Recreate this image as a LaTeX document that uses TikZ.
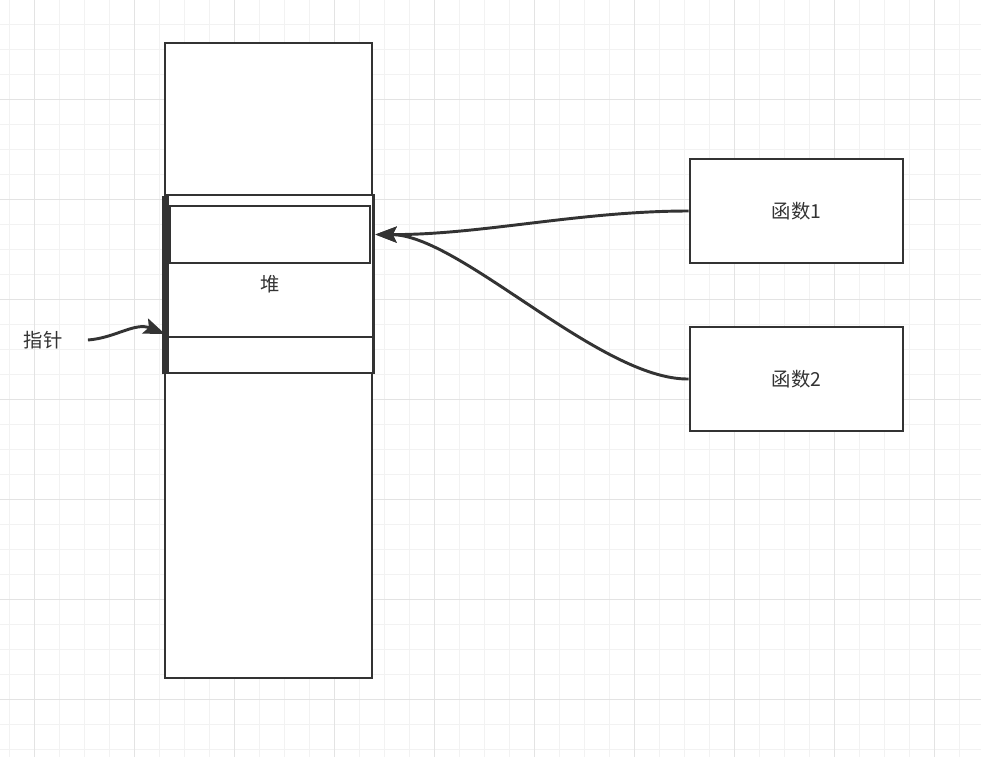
\documentclass[tikz,border=0pt]{standalone}
\usepackage{fontspec}
\setmainfont{Noto Sans CJK SC}
\usepackage{xcolor}
\usepackage{tikz}
\usetikzlibrary{arrows.meta,positioning,calc}
\definecolor{inkgray}{HTML}{333333}
\definecolor{gridminor}{HTML}{F2F2F2}
\definecolor{gridmajor}{HTML}{E3E3E3}
\begin{document}
\begin{tikzpicture}[x=0.75pt,y=-0.75pt,
    box/.style={draw=inkgray,line width=2.2pt,fill=white,rectangle,inner sep=0pt},
    lbl/.style={font=\fontsize{14.5}{17}\selectfont,text=inkgray},
    arr/.style={draw=inkgray,line width=2.2pt,-{Stealth[length=16pt,width=12pt,inset=3pt]}}]
        \useasboundingbox (0,0) rectangle (981,757);
        \fill[white] (0,0) rectangle (981,757);
        % ---- grid ----
        \foreach \gx in {9.5,34.5,...,984} {
          \draw[gridminor,line width=1pt] (\gx,0)--(\gx,757);
        }
        \foreach \gy in {24.5,49.5,...,757} {
          \draw[gridminor,line width=1pt] (0,\gy)--(981,\gy);
        }
        \foreach \gx in {34.5,134.5,...,984} {
          \draw[gridmajor,line width=1pt] (\gx,0)--(\gx,757);
        }
        \foreach \gy in {99.5,199.5,...,757} {
          \draw[gridmajor,line width=1pt] (0,\gy)--(981,\gy);
        }
        % ---- memory column ----
        \node[box,minimum width=155.25pt,minimum height=476.25pt] (mem) at (268.5,360.5) {};
        \node[box,lbl,minimum width=155pt,minimum height=133.5pt] (heap) at (270.5,284) {堆};
        \node[box,minimum width=150pt,minimum height=42.75pt] (cell) at (270,234.5) {};
        \node[box,minimum width=155pt,minimum height=27pt] (tail) at (270.5,355) {};
        \draw[inkgray,line width=2.2pt] (heap.south west) ++(-2,0) -- ++(0,-178);
        % ---- functions ----
        \node[box,lbl,minimum width=159.75pt,minimum height=78pt] (fnone) at (796.5,211) {函数1};
        \node[box,lbl,minimum width=159.75pt,minimum height=78pt] (fntwo) at (796.5,379) {函数2};
        % ---- pointer label ----
        \node[lbl,inner sep=0pt] (ptr) at (43,340) {指针};
        \coordinate (hit) at (heap.east |- cell.east);
        \coordinate (ptrin) at (165,334);
        % ---- connectors ----
        \draw[arr] (fnone.west) .. controls (580,211) and (480,235) .. (hit);
        \draw[arr] (fntwo.west) .. controls (600,380) and (460,235) .. (hit);
        \draw[arr] ([xshift=19pt]ptr.east) .. controls (115,338) and (135,322) .. (ptrin);
      \end{tikzpicture}
\end{document}
